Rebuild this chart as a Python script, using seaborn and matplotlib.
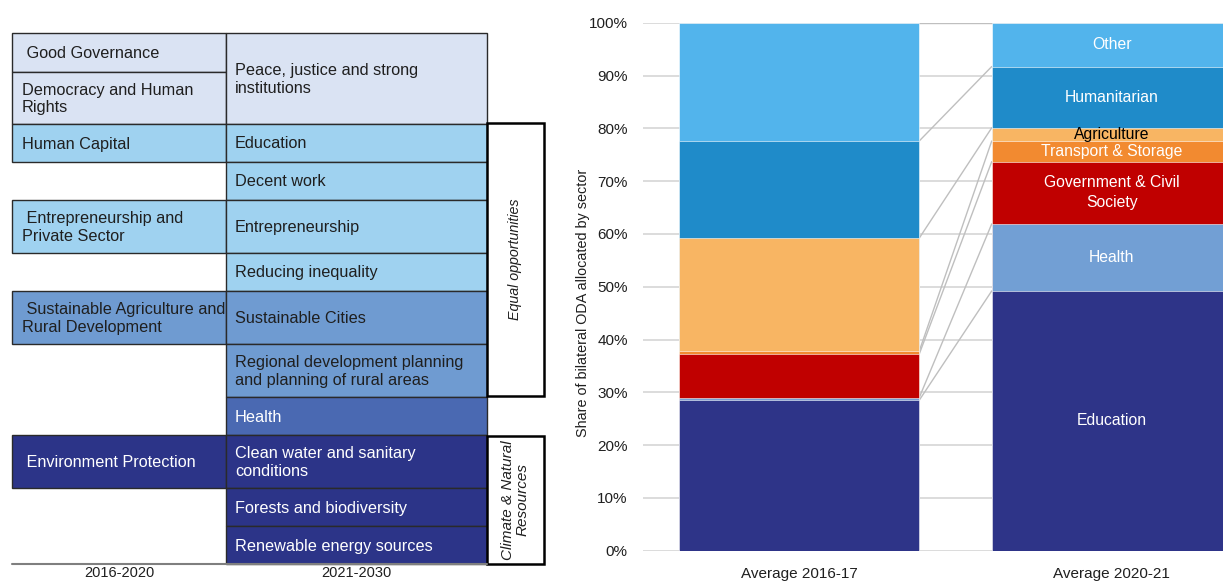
import matplotlib
matplotlib.use("Agg")
import matplotlib.pyplot as plt
from matplotlib.patches import Rectangle
from matplotlib.ticker import FuncFormatter
import seaborn as sns
import pandas as pd

# ---------------- data ----------------
periods = ["Average 2016-17", "Average 2020-21"]
sectors = ["Education", "Health", "Government & Civil\nSociety",
           "Transport & Storage", "Agriculture", "Humanitarian", "Other"]
share_2016_17 = [28.5, 0.5, 8.25, 0.55, 21.4, 18.4, 22.4]
share_2020_21 = [49.2, 12.7, 11.8, 3.9, 2.5, 11.6, 8.3]

sector_colors = ["#2E3488", "#729FD4", "#C00000", "#F28A30",
                 "#F8B563", "#1F8BC9", "#52B4EC"]
label_colors = ["white", "white", "white", "white", "black", "white", "white"]

# strategy themes, 2016-2020 (left column) and 2021-2030 (right column)
themes_2016 = [" Good Governance", "Democracy and Human\nRights", "Human Capital",
               " Entrepreneurship and\nPrivate Sector",
               " Sustainable Agriculture and\nRural Development",
               " Environment Protection"]
themes_2021 = ["Peace, justice and strong\ninstitutions", "Education", "Decent work",
               "Entrepreneurship", "Reducing inequality", "Sustainable Cities",
               "Regional development planning\nand planning of rural areas", "Health",
               "Clean water and sanitary\nconditions", "Forests and biodiversity",
               "Renewable energy sources"]
column_titles = ["2016-2020", "2021-2030"]
group_titles = ["Equal opportunities", "Climate & Natural\nResources"]

# ---------------- figure ----------------
W, H = 1223, 581
sns.set_theme(style="white")
plt.rcParams["font.family"] = ["Liberation Sans", "DejaVu Sans"]
fig = plt.figure(figsize=(W / 100, H / 100), dpi=100)

# ---- left panel: theme table drawn in pixel coordinates ----
pan = fig.add_axes([0, 0, 1, 1])
pan.set_xlim(0, W)
pan.set_ylim(H, 0)
pan.axis("off")

pale, sky, mid, hlth, navy = "#DAE3F3", "#9FD2F0", "#6F9BD1", "#4A69B2", "#2C3488"
dark_txt = "#1F1F1F"
edge = "#2A2A2A"

c1_x0, c1_x1, c2_x1 = 12, 226, 487
c1_rows = [(33, 72), (72, 124), (124, 162), (200, 253), (291, 344), (435, 488)]
c1_fill = [pale, pale, sky, sky, mid, navy]
c2_bounds = [33, 124, 162, 200, 253, 291, 344, 397, 435, 488, 526, 564]
c2_fill = [pale, sky, sky, sky, sky, mid, mid, hlth, navy, navy, navy]

fs_tab = 11.7
for (t, b), fc, txt in zip(c1_rows, c1_fill, themes_2016):
    pan.add_patch(Rectangle((c1_x0, t), c1_x1 - c1_x0, b - t, facecolor=fc,
                            edgecolor=edge, lw=1.0))
    tc = "white" if fc in (navy, hlth) else dark_txt
    pan.text(c1_x0 + 10, (t + b) / 2 + 1, txt, ha="left", va="center",
             fontsize=fs_tab, color=tc)

for i, (fc, txt) in enumerate(zip(c2_fill, themes_2021)):
    t, b = c2_bounds[i], c2_bounds[i + 1]
    pan.add_patch(Rectangle((c1_x1, t), c2_x1 - c1_x1, b - t, facecolor=fc,
                            edgecolor=edge, lw=1.0))
    tc = "white" if fc in (navy, hlth) else dark_txt
    pan.text(c1_x1 + 9, (t + b) / 2 + 1, txt, ha="left", va="center",
             fontsize=fs_tab, color=tc)

# bracket boxes for the two theme groups
for (t, b), txt, fs in zip([(123, 396), (436, 564)], group_titles, [10.3, 11]):
    pan.add_patch(Rectangle((c2_x1, t), 57, b - t, facecolor="white",
                            edgecolor="black", lw=1.8))
    pan.text(c2_x1 + 28.5, (t + b) / 2, txt, rotation=90, ha="center",
             va="center", fontsize=fs, style="italic", color=dark_txt,
             multialignment="center", linespacing=1.0)

pan.plot([c1_x0, c2_x1], [564, 564], color="#7F7F7F", lw=1.5)
pan.text((c1_x0 + c1_x1) / 2, 573, column_titles[0], ha="center", va="center",
         fontsize=10.5, color=dark_txt)
pan.text((c1_x1 + c2_x1) / 2, 573, column_titles[1], ha="center", va="center",
         fontsize=10.5, color=dark_txt)

# ---- right panel: stacked bars ----
x0, x1 = 643, 1268
y0, y1 = 550.7, 22.7
ax = fig.add_axes([x0 / W, (H - y0) / H, (x1 - x0) / W, (y0 - y1) / H])

df = pd.DataFrame({
    "period": [periods[0]] * len(sectors) + [periods[1]] * len(sectors),
    "sector": sectors * 2,
    "share": share_2016_17 + share_2020_21,
})
df["cum"] = df.groupby("period")["share"].cumsum()

bar_w = 0.768
for sec, col in reversed(list(zip(sectors, sector_colors))):
    sns.barplot(data=df[df["sector"] == sec], x="period", y="cum", order=periods,
                color=col, saturation=1, width=bar_w, ax=ax, zorder=2,
                edgecolor="white", linewidth=0.4)

# series lines joining matching segment tops
cum16 = df[df["period"] == periods[0]]["cum"].to_numpy()
cum20 = df[df["period"] == periods[1]]["cum"].to_numpy()
for a, b in zip(cum16, cum20):
    ax.plot([bar_w / 2, 1 - bar_w / 2], [a, b], color="#BFBFBF", lw=1.0, zorder=1.5)

# segment labels on the latest bar
lows = cum20 - df[df["period"] == periods[1]]["share"].to_numpy()
for sec, lo, hi, tc in zip(sectors, lows, cum20, label_colors):
    ax.text(1, (lo + hi) / 2, sec, ha="center", va="center", color=tc,
            fontsize=11.3, linespacing=1.4, zorder=3)

ax.set_xlim(-0.5, 1.5)
ax.set_ylim(0, 100)
ax.set_yticks(range(0, 101, 10))
ax.yaxis.set_major_formatter(FuncFormatter(lambda v, p: f"{v:.0f}%"))
ax.yaxis.grid(True, color="#D9D9D9", lw=1.3)
ax.set_axisbelow(True)
for s in ax.spines.values():
    s.set_visible(False)
ax.tick_params(axis="both", length=0, colors="#1F1F1F")
ax.tick_params(axis="y", pad=11, labelsize=11)
ax.tick_params(axis="x", pad=12, labelsize=11)
ax.set_xlabel("")
ax.set_ylabel("Share of bilateral ODA allocated by sector", fontsize=10.4,
              color="#1F1F1F")
ax.yaxis.set_label_coords(-0.085, 0.469)

fig.savefig("out.png", dpi=100)
